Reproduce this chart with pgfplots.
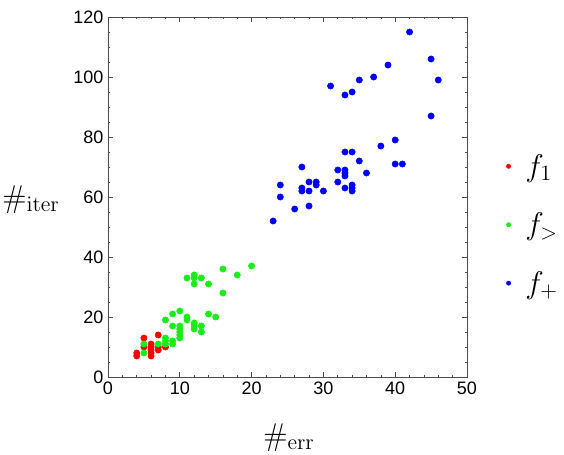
\RequirePackage{fix-cm}
\documentclass[border=0pt]{standalone}
\usepackage[no-math]{fontspec}
\usepackage{pgfplots}
\pgfplotsset{compat=1.18}
\newfontfamily\arial{Liberation Sans}
\definecolor{axgray}{gray}{0.3}
\definecolor{ptred}{rgb}{1,0,0}
\definecolor{ptgreen}{rgb}{0.1,0.93,0.1}
\definecolor{ptblue}{rgb}{0,0,1}

% iterations versus errors for the three functions
\pgfplotstableread{
err iter
4 7
4 8
5 10
5 13
6 7
6 8
6 9
6 10
6 11
7 9
7 10
7 14
8 10
}\fone
\pgfplotstableread{
err iter
5 8
5 11
7 11
8 11
8 12
8 13
8 19
9 11
9 12
9 17
9 21
10 13
10 14
10 15
10 16
10 17
10 22
11 19
11 20
11 33
12 16
12 17
12 18
12 31
12 33
12 34
13 15
13 17
13 33
14 21
14 31
15 20
16 28
16 36
18 34
20 37
}\fgt
\pgfplotstableread{
err iter
23 52
24 60
24 64
26 56
27 62
27 63
27 70
28 57
28 62
28 65
29 64
29 65
30 62
31 97
32 65
32 69
33 63
33 67
33 68
33 69
33 75
33 94
34 62
34 63
34 64
34 75
34 95
35 72
35 99
36 68
37 100
38 77
39 104
40 71
40 79
41 71
42 115
45 87
45 106
46 99
}\fplus

\begin{document}
\begin{tikzpicture}
\begin{axis}[
  name=ax,
  scale only axis, width=269.25pt, height=270pt,
  xmin=0, xmax=50, ymin=0, ymax=120,
  xtick={0,10,...,50}, ytick={0,20,...,120},
  minor x tick num=4, minor y tick num=3,
  tick align=inside, major tick length=3.5pt, minor tick length=1.8pt,
  axis line style={axgray}, tick style={axgray, line width=0.5pt},
  /pgf/number format/assume math mode=true,
  every tick label/.append style={font=\arial\fontsize{13.5}{16}\selectfont},
  xlabel={$\#_{\mathrm{err}}$}, ylabel={$\#_{\mathrm{iter}}$},
  label style={font=\fontsize{23.5}{28}\selectfont},
  xlabel style={anchor=base, at={(axis description cs:0.504,-0.189)}},
  ylabel style={rotate=-90, anchor=base, at={(axis description cs:-0.2145,0.472)}},
  legend style={draw=none, fill=none, at={(rel axis cs:1.098,0.423)}, anchor=west,
    font=\fontsize{23.5}{28}\selectfont, row sep=22pt},
  legend cell align=left,
  legend image code/.code={%
    \path[draw=none] (0pt,0pt) (10.5pt,0pt);
    \draw[#1, mark size=1.6pt] plot coordinates {(0pt,0pt)};},
]
\addplot[only marks, mark=*, mark size=2.35pt, color=ptred] table[x=err, y=iter] {\fone};
\addplot[only marks, mark=*, mark size=2.35pt, color=ptgreen] table[x=err, y=iter] {\fgt};
\addplot[only marks, mark=*, mark size=2.35pt, color=ptblue] table[x=err, y=iter] {\fplus};
\legend{$f_1$, $f_>$, $f_+$}
\end{axis}
\pgfresetboundingbox
\path ([shift={(-81pt,-57.75pt)}]ax.south west) rectangle ([shift={(72.75pt,12.75pt)}]ax.north east);
\end{tikzpicture}
\end{document}
